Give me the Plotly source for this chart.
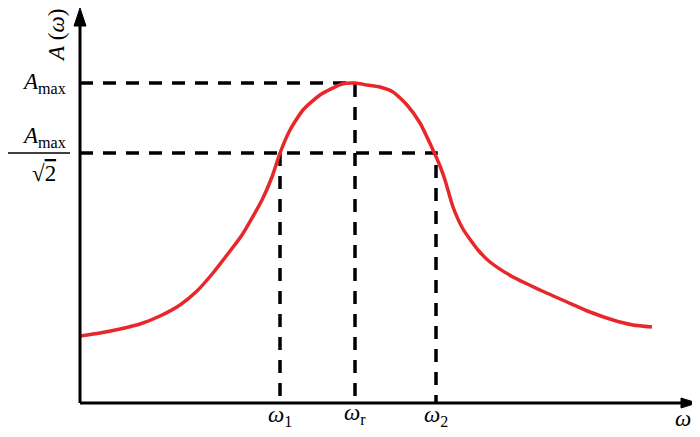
import plotly.graph_objects as go

# curve (x: omega, y: A(omega)), axis origin at (0, 0)
omega = [0, 20, 40, 60, 80, 100, 117, 133, 147, 162, 182, 192, 200, 210, 223, 240,
         262, 275, 287, 300, 313, 327, 340, 353, 360, 365, 373, 383, 398, 410, 433,
         460, 487, 510, 533, 553, 572]
amp = [67, 70, 74, 79, 87, 98, 112, 130, 148, 168, 203, 226, 250, 273, 293, 308,
       319, 320, 318, 316, 311, 298, 280, 253, 237, 223, 196, 174, 153, 141, 126,
       113, 101, 91, 83, 78, 76]

w1, wr, w2 = 200, 275, 356
a_max, a_half = 320, 250
x_tip, y_tip = 617, 395

font = "Liberation Serif"
dash = "13px,10px"

fig = go.Figure()

# dashed guide lines
fig.add_trace(go.Scatter(x=[0, wr, wr], y=[a_max, a_max, 0], mode="lines",
                         line=dict(color="black", width=3.5, dash=dash)))
fig.add_trace(go.Scatter(x=[0, w2, w2], y=[a_half, a_half, 0], mode="lines",
                         line=dict(color="black", width=3.5, dash=dash)))
fig.add_trace(go.Scatter(x=[w1, w1], y=[a_half, 0], mode="lines",
                         line=dict(color="black", width=3.5, dash=dash)))

# response curve
fig.add_trace(go.Scatter(x=omega, y=amp, mode="lines",
                         line=dict(color="#e8272b", width=3.5, shape="spline", smoothing=0.6)))

# axes with arrows
fig.add_shape(type="line", x0=0, y0=0, x1=x_tip - 12, y1=0, line=dict(color="black", width=3))
fig.add_shape(type="line", x0=0, y0=0, x1=0, y1=y_tip - 14, line=dict(color="black", width=3))
fig.add_shape(type="path", path=f"M {x_tip - 16},-5 L {x_tip},0 L {x_tip - 16},5 Z",
              fillcolor="black", line=dict(color="black", width=1))
fig.add_shape(type="path", path=f"M -6,{y_tip - 18} L 0,{y_tip} L 6,{y_tip - 18} Z",
              fillcolor="black", line=dict(color="black", width=1))

# fraction bar
fig.add_shape(type="line", x0=-73, y0=a_half, x1=-10, y1=a_half, line=dict(color="black", width=1.5))

ann = [
    dict(x=-24, y=367, text="<i>A</i> (<i>ω</i>)", textangle=-90, size=23),
    dict(x=-36, y=a_max, text="<i>A</i><sub>max</sub>", size=23),
    dict(x=-36, y=a_half + 16, text="<i>A</i><sub>max</sub>", size=23),
    dict(x=-36, y=a_half - 20, text="√<span style='text-decoration:overline'>2</span>", size=23),
    dict(x=w1, y=-13, text="<i>ω</i><sub>1</sub>", size=23),
    dict(x=wr, y=-11, text="<i>ω</i><sub>r</sub>", size=23),
    dict(x=w2, y=-13, text="<i>ω</i><sub>2</sub>", size=23),
    dict(x=603, y=-15, text="<i>ω</i>", size=23),
]
for a in ann:
    fig.add_annotation(x=a["x"], y=a["y"], text=a["text"], showarrow=False,
                       textangle=a.get("textangle", 0),
                       font=dict(family=font, size=a["size"], color="black"))

# page body adds an 8px offset, so the ranges are shifted to compensate
fig.update_layout(
    width=700, height=437,
    margin=dict(l=0, r=0, t=0, b=0),
    paper_bgcolor="white", plot_bgcolor="white",
    showlegend=False,
    xaxis=dict(range=[-72, 628], visible=False),
    yaxis=dict(range=[-42, 395], visible=False),
)

fig.write_html("out.html")
